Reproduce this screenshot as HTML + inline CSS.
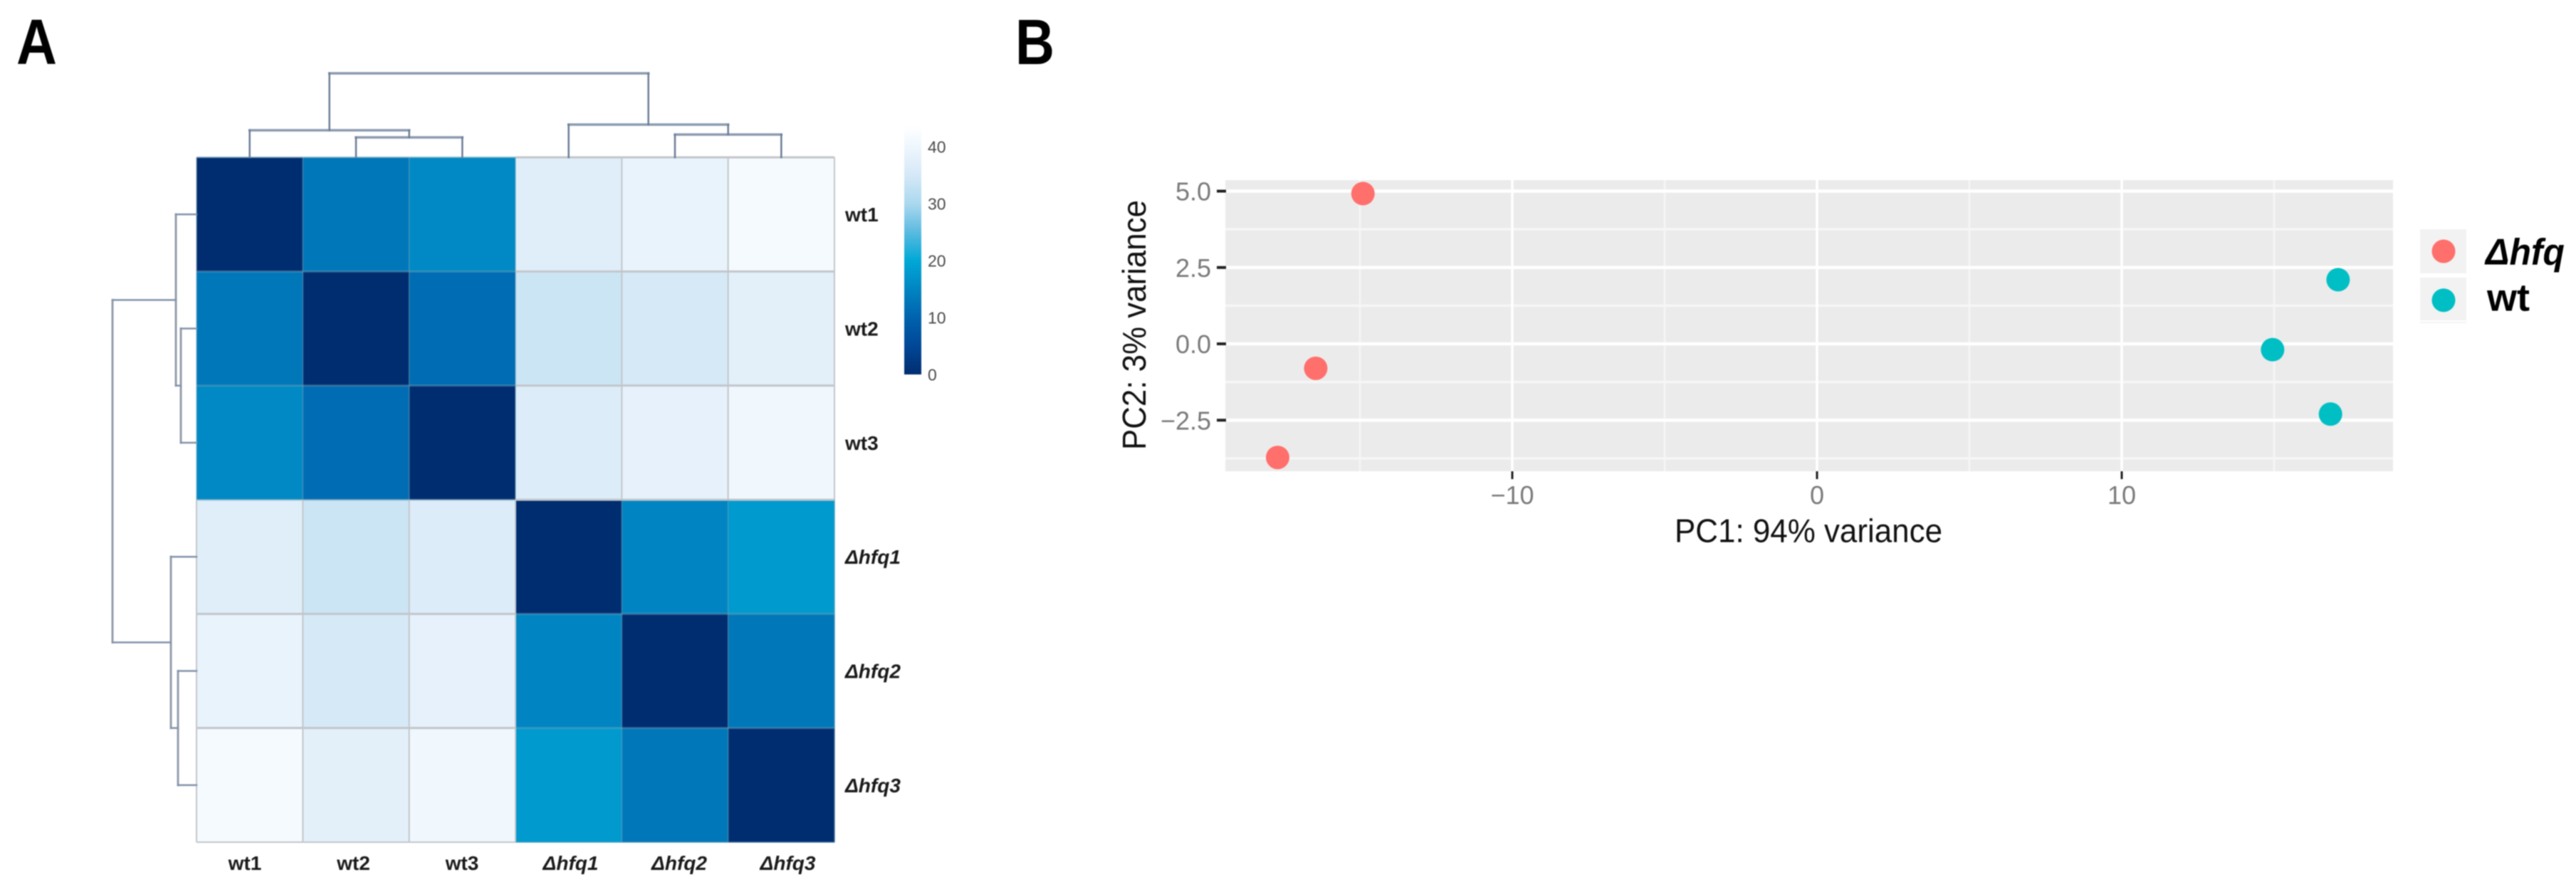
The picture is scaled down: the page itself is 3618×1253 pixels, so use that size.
<!DOCTYPE html>
<html lang="en">
<head>
<meta charset="utf-8">
<title>Sample distance heatmap and PCA plot</title>
<style>
html,body{margin:0;padding:0;background:#fff;width:3618px;height:1253px;overflow:hidden}
svg{display:block;filter:blur(0.9px);font-family:"Liberation Sans",sans-serif}
</style>
</head>
<body>
<svg id="figure" xmlns="http://www.w3.org/2000/svg" width="3618" height="1253" viewBox="0 0 3618 1253">
  <rect width="3618" height="1253" fill="#fff"/>
  <text x="23" y="90" font-size="90" font-weight="700" textLength="57" lengthAdjust="spacingAndGlyphs" fill="#000">A</text>
  <text x="1426" y="90" font-size="90" font-weight="700" textLength="55" lengthAdjust="spacingAndGlyphs" fill="#000">B</text>
  <g id="heatmap-panel"></g>
  <g id="pca-panel"></g>
</svg>
<script>
// ---------- heatmap data ----------
const sampleLabels = ['wt1', 'wt2', 'wt3', 'Δhfq1', 'Δhfq2', 'Δhfq3'];
const distanceMatrix = [
  [0, 13, 15.5, 37, 38.8, 41.5],
  [13, 0, 11.4, 34, 35.2, 37.8],
  [15.5, 11.4, 0, 36.6, 38.3, 40.5],
  [37, 34, 36.6, 0, 15, 18],
  [38.8, 35.2, 38.3, 15, 0, 13],
  [41.5, 37.8, 40.5, 18, 13, 0]
];
const columnMerges = [[1, 2, 28], [0, 6, 38], [4, 5, 32], [3, 8, 46], [7, 9, 118]];
const rowMerges = [[1, 2, 22], [0, 6, 29], [4, 5, 26], [3, 8, 36], [7, 9, 118]];
const colorbarTicks = [0, 10, 20, 30, 40];
const colorbarMax = 43.6;

// ---------- PCA data ----------
const pcaGroups = ['Δhfq', 'wt'];
const pc1Hfq = [-14.9, -16.45, -17.7];
const pc2Hfq = [4.92, -0.8, -3.72];
const pc1Wt = [17.1, 14.95, 16.85];
const pc2Wt = [2.1, -0.19, -2.3];
const xTickValues = [-10, 0, 10];
const xTickLabels = ['−10', '0', '10'];
const xMinorValues = [-15, -5, 5, 15];
const yTickValues = [-2.5, 0, 2.5, 5];
const yTickLabels = ['−2.5', '0.0', '2.5', '5.0'];
const yMinorValues = [-3.75, -1.25, 1.25, 3.75];

const SVG_NS = 'http://www.w3.org/2000/svg';
function el(parent, tag, attrs, text) {
  const n = document.createElementNS(SVG_NS, tag);
  for (const k in attrs) n.setAttribute(k, attrs[k]);
  if (text !== undefined) n.textContent = text;
  parent.appendChild(n);
  return n;
}

// ---------- colour scale ----------
const rampValues = [0, 5, 10, 20, 25, 30, 35, 40, 43.6];
const rampColors = [[0,45,112],[0,71,150],[0,98,173],[0,168,214],[90,186,224],[170,216,238],[213,232,247],[238,246,253],[255,255,255]];
function colorOf(v) {
  let i = 0;
  while (i < rampValues.length - 2 && v > rampValues[i + 1]) i++;
  const t = Math.max(0, Math.min(1, (v - rampValues[i]) / (rampValues[i + 1] - rampValues[i])));
  const c = rampColors[i].map((a, k) => Math.round(a + (rampColors[i + 1][k] - a) * t));
  return 'rgb(' + c.join(',') + ')';
}

// ---------- heatmap ----------
const hm = document.getElementById('heatmap-panel');
const hmLeft = 276, hmTop = 221, cellW = 149.33, cellH = 160.33;
const colX = i => hmLeft + cellW * i;
const rowY = i => hmTop + cellH * i;
const colCenter = i => colX(i + 0.5);
const rowCenter = i => rowY(i + 0.5);

distanceMatrix.forEach((row, r) => {
  row.forEach((value, c) => {
    const cell = el(hm, 'rect', {x: colX(c), y: rowY(r), width: cellW + 0.5, height: cellH + 0.5, fill: colorOf(value)});
    
    
  });
});
distanceMatrix.forEach((row, r) => {
  row.forEach((value, c) => {
    const light = value > 25;
    const stroke = light ? '#c2c6ca' : 'rgba(120,165,185,0.4)';
    const bottom = el(hm, 'line', {x1: colX(c), x2: colX(c + 1), y1: rowY(r + 1), y2: rowY(r + 1), stroke: stroke, 'stroke-width': (r === 5 ? 2 : 3)});
    
    
    const right = el(hm, 'line', {x1: colX(c + 1), x2: colX(c + 1), y1: rowY(r), y2: rowY(r + 1), stroke: stroke, 'stroke-width': 2});
    
    
    if (r === 0) {
      const top = el(hm, 'line', {x1: colX(c), x2: colX(c + 1), y1: rowY(0), y2: rowY(0), stroke: stroke, 'stroke-width': 3});
      
      
    }
    if (c === 0) {
      const left = el(hm, 'line', {x1: colX(0), x2: colX(0), y1: rowY(r), y2: rowY(r + 1), stroke: stroke, 'stroke-width': 2});
      
      
    }
  });
});

// row and column labels
sampleLabels.forEach((label, i) => {
  const italic = label.charAt(0) === 'Δ';
  const colLabel = el(hm, 'text', {x: 344 + 152.5 * i, y: 1222, 'text-anchor': 'middle', 'font-size': 28, 'font-weight': 700, 'font-style': italic ? 'italic' : 'normal', fill: '#1a1a1a'}, label);
  
  
  const rowLabel = el(hm, 'text', {x: 1187, y: rowCenter(i) + 10, 'font-size': 28, 'font-weight': 700, 'font-style': italic ? 'italic' : 'normal', fill: '#1a1a1a'}, label);
  
  
});

// dendrograms
function drawTree(merges, leafPos, drawU) {
  const n = sampleLabels.length;
  const pos = [], height = [];
  for (let i = 0; i < n; i++) { pos.push(leafPos(i)); height.push(0); }
  merges.forEach(m => {
    drawU(pos[m[0]], height[m[0]], pos[m[1]], height[m[1]], m[2]);
    pos.push((pos[m[0]] + pos[m[1]]) / 2);
    height.push(m[2]);
  });
}
const topDepth = h => hmTop - h;
const leftDepth = h => hmLeft - h;
const treeGroup = el(hm, 'g', {fill: 'none', 'stroke-linecap': 'square'});


drawTree(columnMerges, colCenter, (a, ha, b, hb, h) => {
  const bar = el(treeGroup, 'line', {x1: a, x2: b, y1: topDepth(h), y2: topDepth(h), stroke: '#8c9bb1', 'stroke-width': 3.5});
  
  
  const legA = el(treeGroup, 'line', {x1: a, x2: a, y1: topDepth(h), y2: topDepth(ha), stroke: '#6a7c96', 'stroke-width': 2.5});
  
  
  const legB = el(treeGroup, 'line', {x1: b, x2: b, y1: topDepth(h), y2: topDepth(hb), stroke: '#6a7c96', 'stroke-width': 2.5});
  
  
});
drawTree(rowMerges, rowCenter, (a, ha, b, hb, h) => {
  const bar = el(treeGroup, 'line', {y1: a, y2: b, x1: leftDepth(h), x2: leftDepth(h), stroke: '#939dac', 'stroke-width': 3});
  
  
  const legA = el(treeGroup, 'line', {y1: a, y2: a, x1: leftDepth(h), x2: leftDepth(ha), stroke: '#8293ab', 'stroke-width': 2.5});
  
  
  const legB = el(treeGroup, 'line', {y1: b, y2: b, x1: leftDepth(h), x2: leftDepth(hb), stroke: '#8293ab', 'stroke-width': 2.5});
  
  
});

// colour bar
const barY = v => 526 - 8 * v;
const defs = el(hm, 'defs', {});
const grad = el(defs, 'linearGradient', {id: 'colorbar-gradient', x1: 0, x2: 0, y1: 1, y2: 0});
rampValues.forEach(v => {
  el(grad, 'stop', {offset: v / colorbarMax, 'stop-color': colorOf(v)});
});
const colorbar = el(hm, 'rect', {x: 1270, width: 24, y: barY(colorbarMax), height: barY(0) - barY(colorbarMax), fill: 'url(#colorbar-gradient)'});


colorbarTicks.forEach(t => {
  const lab = el(hm, 'text', {x: 1303, y: barY(t) + 8.5, 'font-size': 23, fill: '#4a4a4a'}, String(t));
  
  
});

// ---------- PCA ----------
const pca = document.getElementById('pca-panel');
const plotL = 1721, plotR = 3361, plotT = 253, plotB = 662;
const xScale = v => 2552 + 42.8 * v;
const yScale = v => 483 - 42.9 * v;

const plotBg = el(pca, 'rect', {x: plotL, y: plotT, width: plotR - plotL, height: plotB - plotT, fill: '#ebebeb'});



yMinorValues.forEach(v => {
  const g = el(pca, 'line', {x1: plotL, x2: plotR, y1: yScale(v), y2: yScale(v), stroke: '#f6f6f6', 'stroke-width': 3.5});
  
  
});
xMinorValues.forEach(v => {
  const g = el(pca, 'line', {x1: xScale(v), x2: xScale(v), y1: plotT, y2: plotB, stroke: '#f6f6f6', 'stroke-width': 2.5});
  
  
});
yTickValues.forEach((v, i) => {
  const g = el(pca, 'line', {x1: plotL, x2: plotR, y1: yScale(v), y2: yScale(v), stroke: '#fff', 'stroke-width': 4.5});
  
  
  const tick = el(pca, 'line', {x1: 1709, x2: 1722, y1: yScale(v), y2: yScale(v), stroke: '#222', 'stroke-width': 4});
  
  
  const lab = el(pca, 'text', {x: 1701, y: yScale(v) + 13, 'text-anchor': 'end', 'font-size': 36, fill: '#7a7a7a'}, yTickLabels[i]);
  
  
});
xTickValues.forEach((v, i) => {
  const g = el(pca, 'line', {x1: xScale(v), x2: xScale(v), y1: plotT, y2: plotB, stroke: '#fff', 'stroke-width': 3.5});
  
  
  const tick = el(pca, 'line', {x1: xScale(v), x2: xScale(v), y1: plotB, y2: 673, stroke: '#222', 'stroke-width': 3});
  
  
  const lab = el(pca, 'text', {x: xScale(v), y: 708, 'text-anchor': 'middle', 'font-size': 36, fill: '#7a7a7a'}, xTickLabels[i]);
  
  
});

pc1Hfq.forEach((v, i) => {
  const p = el(pca, 'circle', {cx: xScale(v), cy: yScale(pc2Hfq[i]), r: 16.5, fill: '#ff6f6b'});
  
  
});
pc1Wt.forEach((v, i) => {
  const p = el(pca, 'circle', {cx: xScale(v), cy: yScale(pc2Wt[i]), r: 16.5, fill: '#00bfc4'});
  
  
});

const xTitle = el(pca, 'text', {x: 2352, y: 761.5, 'font-size': 46, textLength: 376, lengthAdjust: 'spacingAndGlyphs', fill: '#111'}, 'PC1: 94% variance');


const yTitle = el(pca, 'text', {x: 1609, y: 456.5, transform: 'rotate(-90 1609 456.5)', 'text-anchor': 'middle', 'font-size': 46, textLength: 351, lengthAdjust: 'spacingAndGlyphs', fill: '#111'}, 'PC2: 3% variance');



// legend
const legendColors = ['#ff6f6b', '#00bfc4'];
const legendKeyTop = [322, 390];
const legendKeyHeight = [62, 60];
const legendPointY = [353, 421.7];
const legendBaseline = [371.7, 436.7];
const legendTextX = [3491, 3493];
const legendTextWidth = [111, 60];
const legendFontSize = [52, 54];
pcaGroups.forEach((name, i) => {
  const key = el(pca, 'rect', {x: 3399, y: legendKeyTop[i], width: 65, height: legendKeyHeight[i], fill: '#f2f2f2'});
  
  
  const dot = el(pca, 'circle', {cx: 3432, cy: legendPointY[i], r: 16.5, fill: legendColors[i]});
  
  
  const label = el(pca, 'text', {x: legendTextX[i], y: legendBaseline[i], 'font-size': legendFontSize[i], 'font-weight': 700, 'font-style': i === 0 ? 'italic' : 'normal', textLength: legendTextWidth[i], lengthAdjust: 'spacingAndGlyphs', fill: '#000'}, name);
  
  
});
const legendEdge = el(pca, 'rect', {x: 3399, y: 452, width: 65, height: 2, fill: '#f2f2f2'});


</script>
</body>
</html>
